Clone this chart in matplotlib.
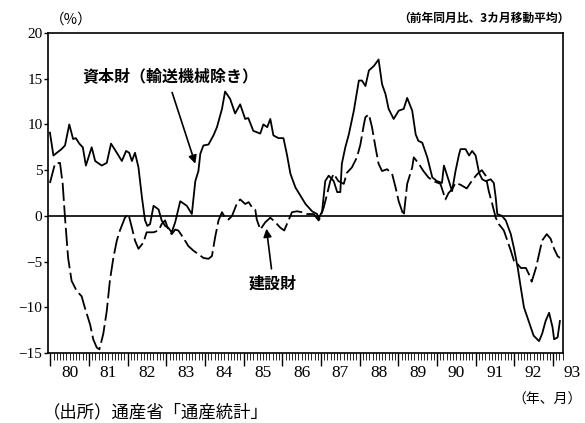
import matplotlib
matplotlib.use('Agg')
import matplotlib.pyplot as plt
import matplotlib.transforms as mtransforms
import numpy as np

# ---- data (decimal year, % y/y, 3-month moving average) ----
cap_t = [1979.99, 1980.08, 1980.29, 1980.38, 1980.49, 1980.59, 1980.66, 1980.75, 1980.84, 1980.92,
         1981.07, 1981.16, 1981.33, 1981.46, 1981.57, 1981.72, 1981.85, 1981.96, 1982.04, 1982.11,
         1982.19, 1982.28, 1982.37, 1982.45, 1982.51, 1982.58, 1982.67, 1982.80, 1982.88, 1982.97,
         1983.05, 1983.14, 1983.23, 1983.36, 1983.53, 1983.66, 1983.75, 1983.83, 1983.88, 1983.96,
         1984.09, 1984.22, 1984.31, 1984.44, 1984.52, 1984.65, 1984.78, 1984.91, 1985.04, 1985.12,
         1985.25, 1985.43, 1985.51, 1985.61, 1985.69, 1985.77, 1985.90, 1986.03, 1986.12, 1986.21,
         1986.34, 1986.47, 1986.60, 1986.77, 1986.90, 1986.94, 1987.03, 1987.11, 1987.20, 1987.33,
         1987.42, 1987.50, 1987.54, 1987.63, 1987.72, 1987.85, 1987.98, 1988.06, 1988.15, 1988.24,
         1988.37, 1988.49, 1988.58, 1988.67, 1988.75, 1988.88, 1989.01, 1989.14, 1989.23, 1989.36,
         1989.45, 1989.52, 1989.62, 1989.75, 1989.88, 1990.00, 1990.13, 1990.18, 1990.31, 1990.39,
         1990.48, 1990.57, 1990.61, 1990.74, 1990.83, 1990.91, 1991.00, 1991.09, 1991.17, 1991.26,
         1991.39, 1991.47, 1991.52, 1991.56, 1991.68, 1991.78, 1991.91, 1991.99, 1992.09, 1992.17,
         1992.25, 1992.37, 1992.50, 1992.64, 1992.72, 1992.81, 1992.90, 1992.99, 1993.03, 1993.12,
         1993.18]
cap_v = [9.1, 6.6, 7.3, 7.7, 10.0, 8.4, 8.5, 7.9, 7.5, 5.5,
         7.5, 6.0, 5.5, 5.8, 7.9, 6.9, 6.0, 7.1, 6.9, 6.0,
         6.9, 5.3, 2.0, -0.5, -1.1, -0.9, 1.1, 0.7, -0.5, -1.1,
         -1.3, -1.8, -0.7, 1.6, 1.1, 0.2, 3.8, 4.9, 6.8, 7.7,
         7.8, 8.8, 9.7, 11.7, 13.6, 12.8, 11.2, 12.2, 10.6, 10.7,
         9.3, 9.0, 10.0, 9.7, 10.6, 8.8, 8.5, 8.5, 6.7, 4.6,
         3.1, 2.2, 1.3, 0.5, 0.2, -0.3, 0.5, 3.8, 4.4, 3.8,
         2.6, 2.6, 5.7, 7.5, 8.9, 11.5, 14.8, 14.8, 14.2, 15.9,
         16.4, 17.1, 14.4, 13.3, 11.7, 10.6, 11.5, 11.7, 12.9, 11.5,
         8.9, 8.2, 8.0, 6.4, 4.2, 3.8, 3.6, 5.5, 3.8, 2.7,
         4.9, 6.7, 7.3, 7.3, 6.6, 7.1, 6.6, 4.7, 4.0, 3.8,
         4.0, 3.6, 2.0, 0.2, 0.0, -0.5, -2.0, -3.5, -5.7, -7.9,
         -10.0, -11.5, -13.1, -13.7, -12.9, -11.5, -10.6, -12.2, -13.5, -13.3,
         -11.5]

con_t = [1979.99, 1980.12, 1980.25, 1980.32, 1980.38, 1980.46, 1980.55, 1980.68, 1980.81, 1980.89,
         1981.03, 1981.11, 1981.20, 1981.27, 1981.37, 1981.46, 1981.54, 1981.63, 1981.72, 1981.80,
         1981.93, 1982.02, 1982.11, 1982.19, 1982.28, 1982.41, 1982.49, 1982.67, 1982.80, 1982.88,
         1982.97, 1983.05, 1983.14, 1983.23, 1983.31, 1983.44, 1983.57, 1983.70, 1983.83, 1983.96,
         1984.09, 1984.18, 1984.26, 1984.35, 1984.44, 1984.52, 1984.61, 1984.70, 1984.83, 1984.91,
         1985.04, 1985.13, 1985.22, 1985.30, 1985.34, 1985.43, 1985.56, 1985.69, 1985.82, 1985.95,
         1986.05, 1986.16, 1986.25, 1986.38, 1986.51, 1986.64, 1986.81, 1986.94, 1986.98, 1987.07,
         1987.16, 1987.24, 1987.33, 1987.45, 1987.59, 1987.67, 1987.80, 1987.93, 1988.02, 1988.11,
         1988.15, 1988.24, 1988.32, 1988.41, 1988.49, 1988.58, 1988.71, 1988.84, 1988.93, 1989.01,
         1989.10, 1989.14, 1989.23, 1989.36, 1989.40, 1989.53, 1989.65, 1989.78, 1989.91, 1990.09,
         1990.22, 1990.30, 1990.39, 1990.48, 1990.61, 1990.77, 1990.93, 1991.05, 1991.16, 1991.26,
         1991.34, 1991.43, 1991.52, 1991.60, 1991.73, 1991.82, 1991.91, 1991.99, 1992.09, 1992.17,
         1992.30, 1992.38, 1992.45, 1992.56, 1992.64, 1992.72, 1992.84, 1992.94, 1993.03, 1993.12,
         1993.18]
con_v = [3.6, 5.7, 5.8, 3.5, -0.2, -4.6, -7.1, -8.2, -8.8, -10.0,
         -11.9, -13.5, -14.4, -14.6, -12.9, -10.4, -7.1, -4.6, -2.7, -1.6,
         -0.2, 0.2, -1.3, -2.7, -3.6, -2.9, -1.8, -1.8, -1.6, -0.9,
         -0.5, -1.5, -2.0, -1.5, -1.6, -2.4, -3.3, -3.8, -4.2, -4.6,
         -4.7, -4.4, -2.4, -0.5, 0.4, -0.2, -0.4, 0.0, 1.4, 1.8,
         1.3, 1.5, 0.9, 0.7, -0.4, -1.5, -0.7, -0.2, -0.7, -1.3,
         -1.6, -0.5, 0.4, 0.5, 0.4, 0.2, 0.2, -0.5, -0.2, 0.9,
         2.4, 3.8, 4.6, 3.8, 3.5, 4.7, 5.3, 6.4, 7.8, 10.0,
         10.8, 11.1, 9.7, 7.5, 5.7, 4.9, 5.1, 4.6, 3.1, 1.6,
         0.5, 0.0, 3.5, 5.3, 6.4, 5.7, 4.9, 4.2, 3.8, 3.5,
         1.8, 2.5, 2.9, 3.6, 3.4, 3.0, 4.0, 4.6, 5.0, 4.4,
         2.7, 1.3, -0.2, -0.9, -1.6, -2.7, -3.8, -4.9, -5.3, -5.7,
         -5.7, -6.4, -7.2, -5.7, -4.2, -2.7, -2.0, -2.5, -3.6, -4.4,
         -4.6]

years = list(range(1980, 1994))
year_labels = ['80', '81', '82', '83', '84', '85', '86', '87', '88', '89', '90', '91', '92', '93']
y_ticks = [-15, -10, -5, 0, 5, 10, 15, 20]
y_labels = ['−15', '−10', '−5', '0', '5', '10', '15', '20']

CJK = ['Noto Sans CJK JP', 'DejaVu Sans']
NUM = ['Liberation Serif', 'DejaVu Serif']

W, H = 585, 423
fig = plt.figure(figsize=(W / 100, H / 100), dpi=100)
ax = fig.add_axes([48 / W, 1 - 353 / H, (563 - 48) / W, (353 - 33) / H])

ax.plot(cap_t, cap_v, color='black', lw=1.3, solid_joinstyle='round')
ax.plot(con_t, con_v, color='black', lw=1.3, linestyle=(0, (10, 2.5)))
ax.axhline(0, color='black', lw=1.2)

ax.set_xlim(1979.94, 1993.26)
ax.set_ylim(-15, 20)

ax.set_yticks(y_ticks)
ax.set_yticklabels(y_labels, fontfamily=NUM, fontsize=11)
ax.tick_params(axis='y', direction='out', length=3, width=1, pad=1)

ax.set_xticks(years)
ax.set_xticklabels([])
ax.set_xticks(np.arange(1980, 1993.26, 1 / 12), minor=True)
ax.tick_params(axis='x', which='major', direction='out', length=9, width=1)
ax.tick_params(axis='x', which='minor', direction='out', length=5, width=0.6)

for s in ax.spines.values():
    s.set_linewidth(1.2)

trans = mtransforms.blended_transform_factory(ax.transData, ax.transAxes)
for yr, lab in zip(years, year_labels):
    ax.text(yr + 0.5, -0.0625, lab, transform=trans, ha='center', va='center',
            fontsize=12.5, fontfamily=NUM, clip_on=False)

ax.text(1980.84, 15.3, '資本財（輸送機械除き）', ha='left', va='center',
        fontsize=11.5, fontfamily=CJK, fontweight='bold')
ax.annotate('', xy=(1983.75, 5.7), xytext=(1983.15, 13.5),
            arrowprops=dict(arrowstyle='-|>', color='black', lw=1.2,
                            mutation_scale=12, shrinkA=0, shrinkB=0))
ax.text(1985.12, -7.4, '建設財', ha='left', va='center',
        fontsize=11.5, fontfamily=CJK, fontweight='bold')
ax.annotate('', xy=(1985.59, -1.4), xytext=(1985.72, -5.8),
            arrowprops=dict(arrowstyle='-|>', color='black', lw=1.2,
                            mutation_scale=12, shrinkA=0, shrinkB=0))

fig.text(50 / W, 1 - 20 / H, '（%）', ha='left', va='center', fontsize=10.5, fontfamily=CJK)
fig.text(570 / W, 1 - 18 / H, '（前年同月比、3カ月移動平均）', ha='right', va='center',
         fontsize=8.5, fontfamily=CJK, fontweight='bold')
fig.text(43 / W, 1 - 412 / H, '（出所）通産省「通産統計」', ha='left', va='center',
         fontsize=12.5, fontfamily=CJK)
fig.text(582 / W, 1 - 400 / H, '（年、月）', ha='right', va='center',
         fontsize=10, fontfamily=CJK)

fig.savefig('out.png', dpi=100)
